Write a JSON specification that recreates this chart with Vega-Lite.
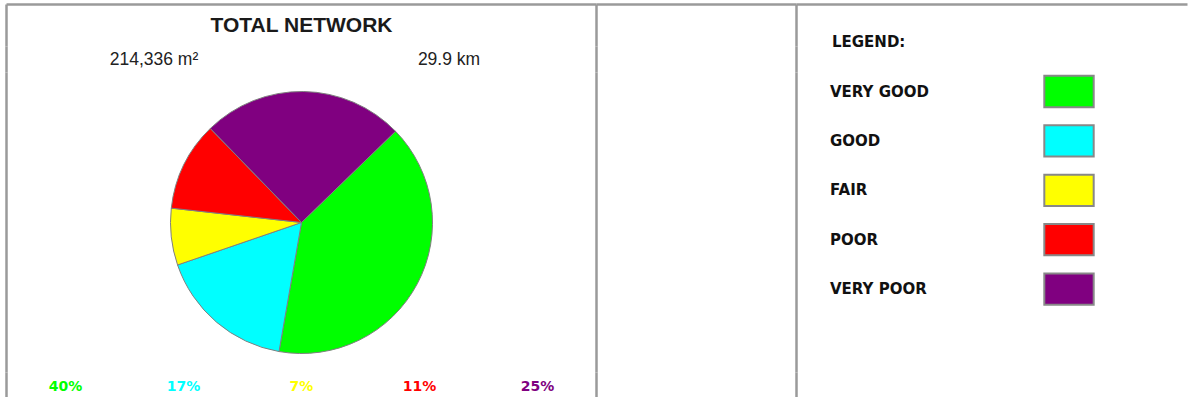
{
  "$schema": "https://vega.github.io/schema/vega-lite/v6.json",
  "padding": {"left": 4.5, "top": 2.5, "right": 0, "bottom": 0},
  "background": "white",
  "columns": 3,
  "spacing": 0,
  "bounds": "flush",
  "datasets": {
    "conditions": [
      {"condition": "VERY GOOD", "share": 0.40, "rank": 1},
      {"condition": "GOOD", "share": 0.17, "rank": 2},
      {"condition": "FAIR", "share": 0.07, "rank": 3},
      {"condition": "POOR", "share": 0.11, "rank": 4},
      {"condition": "VERY POOR", "share": 0.25, "rank": 5}
    ],
    "none": []
  },
  "config": {
    "view": {"stroke": null}
  },
  "concat": [
    {
      "width": 590,
      "height": 42,
      "view": {"stroke": "#9a9a9a", "strokeWidth": 2.5, "strokeDash": [590, 632, 42, 0]},
      "data": {"values": [{"heading": "TOTAL NETWORK"}]},
      "mark": {"type": "text", "font": "Liberation Sans", "fontWeight": "bold", "fontSize": 21, "color": "#1a1a1a"},
      "encoding": {"text": {"field": "heading"}}
    },
    {
      "width": 200, "height": 42,
      "view": {"stroke": "#9a9a9a", "strokeWidth": 2.5, "strokeDash": [200, 242, 42, 0]},
      "data": {"name": "none"}, "mark": "text", "encoding": {}
    },
    {
      "width": 391, "height": 42,
      "view": {"stroke": "#9a9a9a", "strokeWidth": 2.5, "strokeDash": [391, 433, 42, 0]},
      "data": {"name": "none"}, "mark": "text", "encoding": {}
    },
    {
      "width": 590,
      "height": 26,
      "view": {"stroke": "#9a9a9a", "strokeWidth": 2.5, "strokeDash": [0, 1206, 26, 0]},
      "data": {"values": [
        {"measure": "Area", "label": "214,336 m²"},
        {"measure": "Length", "label": "29.9 km"}
      ]},
      "mark": {"type": "text", "font": "Liberation Sans", "fontSize": 17.5, "color": "#222222"},
      "encoding": {
        "x": {"field": "measure", "type": "nominal", "sort": null, "axis": null, "scale": {"type": "point", "padding": 0.5}},
        "text": {"field": "label"}
      }
    },
    {
      "width": 200, "height": 26,
      "view": {"stroke": "#9a9a9a", "strokeWidth": 2.5, "strokeDash": [0, 426, 26, 0]},
      "data": {"name": "none"}, "mark": "text", "encoding": {}
    },
    {
      "width": 391, "height": 26,
      "view": {"stroke": "#9a9a9a", "strokeWidth": 2.5, "strokeDash": [0, 808, 26, 0]},
      "data": {"name": "none"}, "mark": "text", "encoding": {}
    },
    {
      "width": 590,
      "height": 300,
      "view": {"stroke": "#9a9a9a", "strokeWidth": 2.5, "strokeDash": [0, 1480, 300, 0]},
      "data": {"name": "conditions"},
      "mark": {"type": "arc", "outerRadius": 131, "stroke": "#808080", "strokeWidth": 1},
      "encoding": {
        "theta": {"field": "share", "type": "quantitative", "stack": true, "scale": {"range": [0.801, 7.084]}},
        "order": {"field": "rank", "type": "quantitative"},
        "color": {
          "field": "condition", "type": "nominal", "title": "LEGEND:",
          "scale": {"domain": ["VERY GOOD", "GOOD", "FAIR", "POOR", "VERY POOR"], "range": ["#00ff00", "#00ffff", "#ffff00", "#ff0000", "#800080"]},
          "legend": {
            "orient": "none", "direction": "vertical", "legendX": 825.5, "legendY": 30,
            "titleFont": "DejaVu Sans", "titleFontSize": 15, "titleFontWeight": "bold", "titleColor": "#111111", "titlePadding": 16, "titleLimit": 400,
            "labelFont": "DejaVu Sans", "labelFontSize": 15, "labelFontWeight": "bold", "labelColor": "#111111", "labelLimit": 400,
            "symbolType": "M-1,-0.633H1V0.633H-1Z", "symbolSize": 2440, "symbolStrokeColor": "#888888", "symbolStrokeWidth": 2, "symbolOpacity": 1,
            "symbolOffset": 211, "labelOffset": -265, "rowPadding": 3.4
          }
        }
      }
    },
    {
      "width": 200, "height": 300,
      "view": {"stroke": "#9a9a9a", "strokeWidth": 2.5, "strokeDash": [0, 700, 300, 0]},
      "data": {"name": "none"}, "mark": "text", "encoding": {}
    },
    {
      "width": 391, "height": 300,
      "view": {"stroke": "#9a9a9a", "strokeWidth": 2.5, "strokeDash": [0, 1082, 300, 0]},
      "data": {"name": "none"}, "mark": "text", "encoding": {}
    },
    {
      "width": 590,
      "height": 29,
      "view": {"stroke": "#9a9a9a", "strokeWidth": 2.5, "strokeDash": [0, 1209, 29, 0]},
      "data": {"name": "conditions"},
      "mark": {"type": "text", "font": "DejaVu Sans", "fontWeight": "bold", "fontSize": 14},
      "encoding": {
        "x": {"field": "condition", "type": "nominal", "sort": ["VERY GOOD", "GOOD", "FAIR", "POOR", "VERY POOR"], "axis": null, "scale": {"type": "point", "padding": 0.5}},
        "text": {"field": "share", "type": "quantitative", "format": ".0%"},
        "color": {
          "field": "condition", "type": "nominal", "title": "LEGEND:",
          "scale": {"domain": ["VERY GOOD", "GOOD", "FAIR", "POOR", "VERY POOR"], "range": ["#00ff00", "#00ffff", "#ffff00", "#ff0000", "#800080"]},
          "legend": {
            "orient": "none", "direction": "vertical", "legendX": 825.5, "legendY": 30,
            "titleFont": "DejaVu Sans", "titleFontSize": 15, "titleFontWeight": "bold", "titleColor": "#111111", "titlePadding": 16, "titleLimit": 400,
            "labelFont": "DejaVu Sans", "labelFontSize": 15, "labelFontWeight": "bold", "labelColor": "#111111", "labelLimit": 400,
            "symbolType": "M-1,-0.633H1V0.633H-1Z", "symbolSize": 2440, "symbolStrokeColor": "#888888", "symbolStrokeWidth": 2, "symbolOpacity": 1,
            "symbolOffset": 211, "labelOffset": -265, "rowPadding": 3.4
          }
        }
      }
    },
    {
      "width": 200, "height": 29,
      "view": {"stroke": "#9a9a9a", "strokeWidth": 2.5, "strokeDash": [0, 429, 29, 0]},
      "data": {"name": "none"}, "mark": "text", "encoding": {}
    },
    {
      "width": 391, "height": 29,
      "view": {"stroke": "#9a9a9a", "strokeWidth": 2.5, "strokeDash": [0, 811, 29, 0]},
      "data": {"name": "none"}, "mark": "text", "encoding": {}
    }
  ]
}
